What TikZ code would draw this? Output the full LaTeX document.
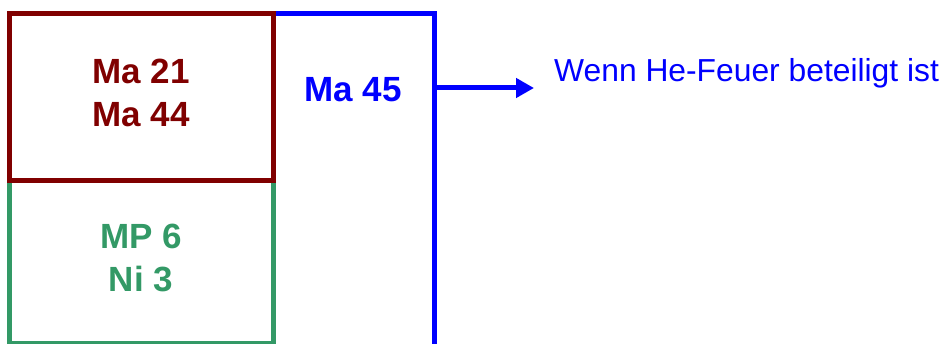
\documentclass[tikz,border=0pt]{standalone}
\usepackage{fontspec}
\setmainfont{Liberation Sans}
\usetikzlibrary{arrows.meta}
\definecolor{dred}{HTML}{800000}
\definecolor{dgreen}{HTML}{339966}
\definecolor{pblue}{HTML}{0000FF}
\begin{document}
\begin{tikzpicture}[x=1pt,y=-1pt,
  boxstyle/.style={draw,line width=5pt,inner sep=0pt,minimum width=263.5pt},
  bigtext/.style={inner sep=0pt,align=center,font=\fontsize{35}{43}\selectfont\bfseries},
  notetext/.style={inner sep=0pt,text=pblue,font=\fontsize{31.8}{38}\selectfont}]
\useasboundingbox (0,0) rectangle (944,344);
% blue frame
\node[draw=pblue,line width=5pt,inner sep=0pt,minimum width=161pt,minimum height=346pt] (blueframe) at (353.5,187) {};
% green box
\node[boxstyle,draw=dgreen,minimum height=162.5pt] (greenbox) at (141.25,261.75) {};
% red box
\node[boxstyle,draw=dred,minimum height=166.5pt] (redbox) at (141.25,97.25) {};
% texts
\node[bigtext,text=dred] (redtext) at (141,93) {Ma 21\\Ma 44};
\node[bigtext,text=dgreen] (greentext) at (141,257.5) {MP 6\\Ni 3};
\node[bigtext,text=pblue] (bluetext) at (353,89.5) {Ma 45};
\node[notetext,anchor=base west] (note) at (554,82) {Wenn He-Feuer beteiligt ist};
% arrow
\coordinate (arrowend) at (534,88);
\draw[pblue,line width=5pt,-{Triangle[length=18pt,width=19pt]}] (blueframe.east |- arrowend) -- (arrowend);
\end{tikzpicture}
\end{document}
